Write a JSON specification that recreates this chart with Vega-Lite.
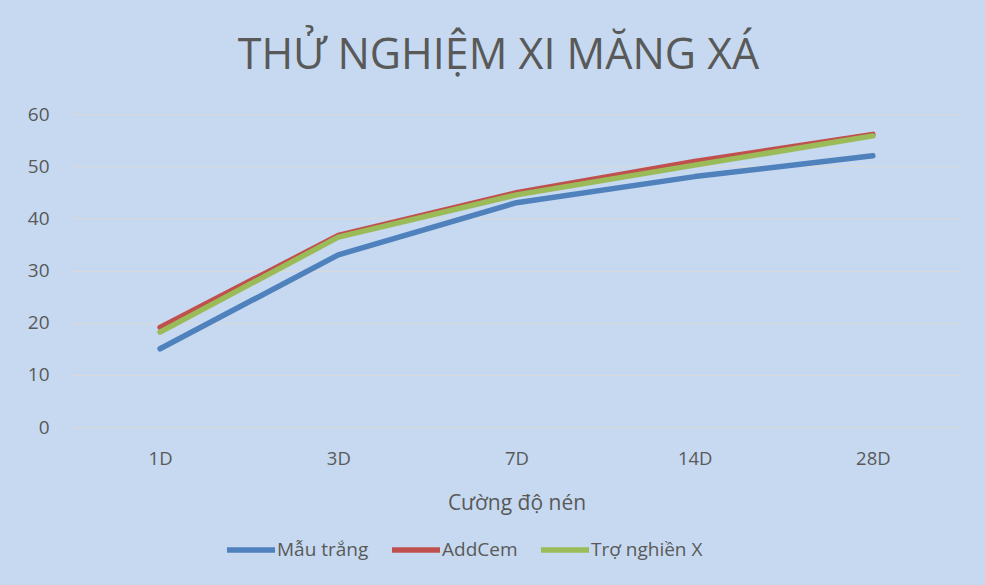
{
  "$schema": "https://vega.github.io/schema/vega-lite/v6.json",
  "autosize": {"type": "none"},
  "width": 891,
  "height": 313,
  "padding": {"left": 71, "top": 114, "right": 23, "bottom": 158},
  "background": "#C6D9F0",
  "title": {
    "text": "THỬ NGHIỆM XI MĂNG XÁ",
    "font": "Open Sans",
    "fontSize": 43,
    "fontWeight": "normal",
    "color": "#595959",
    "anchor": "middle",
    "baseline": "bottom",
    "offset": -16,
    "dx": -18
  },
  "data": {
    "values": [
      {"age": "1D", "series": "Mẫu trắng", "value": 15},
      {"age": "3D", "series": "Mẫu trắng", "value": 33},
      {"age": "7D", "series": "Mẫu trắng", "value": 43},
      {"age": "14D", "series": "Mẫu trắng", "value": 48},
      {"age": "28D", "series": "Mẫu trắng", "value": 52},
      {"age": "1D", "series": "AddCem", "value": 19.1},
      {"age": "3D", "series": "AddCem", "value": 36.7},
      {"age": "7D", "series": "AddCem", "value": 44.9},
      {"age": "14D", "series": "AddCem", "value": 50.9},
      {"age": "28D", "series": "AddCem", "value": 56.1},
      {"age": "1D", "series": "Trợ nghiền X", "value": 18.2},
      {"age": "3D", "series": "Trợ nghiền X", "value": 36.4},
      {"age": "7D", "series": "Trợ nghiền X", "value": 44.5},
      {"age": "14D", "series": "Trợ nghiền X", "value": 50.2},
      {"age": "28D", "series": "Trợ nghiền X", "value": 55.8}
    ]
  },
  "mark": {"type": "line", "strokeWidth": 5.5, "strokeCap": "round", "strokeJoin": "round"},
  "encoding": {
    "x": {
      "field": "age",
      "type": "ordinal",
      "sort": ["1D", "3D", "7D", "14D", "28D"],
      "scale": {"type": "point", "padding": 0.5},
      "axis": {
        "title": "Cường độ nén",
        "labelAngle": 0,
        "ticks": false,
        "tickSize": 0,
        "grid": false,
        "domain": true,
        "domainColor": "#D9D9D9",
        "labelFont": "Open Sans",
        "labelFontSize": 18.5,
        "labelColor": "#595959",
        "labelPadding": 22,
        "titleFont": "Open Sans",
        "titleFontSize": 21,
        "titleFontWeight": "normal",
        "titleColor": "#595959",
        "titlePadding": 25
      }
    },
    "y": {
      "field": "value",
      "type": "quantitative",
      "scale": {"domain": [0, 60]},
      "axis": {
        "title": null,
        "values": [0, 10, 20, 30, 40, 50, 60],
        "ticks": false,
        "tickSize": 0,
        "domain": false,
        "grid": true,
        "gridColor": "#D9D9D9",
        "gridWidth": 1,
        "labelFont": "Open Sans",
        "labelFontSize": 19,
        "labelColor": "#595959",
        "labelPadding": 22
      }
    },
    "color": {
      "field": "series",
      "type": "nominal",
      "sort": ["Mẫu trắng", "AddCem", "Trợ nghiền X"],
      "scale": {"domain": ["Mẫu trắng", "AddCem", "Trợ nghiền X"], "range": ["#4F81BD", "#C0504D", "#9BBB59"]},
      "legend": {
        "title": null,
        "orient": "none",
        "legendX": 153,
        "legendY": 409,
        "direction": "horizontal",
        "symbolType": "stroke",
        "symbolSize": 2304,
        "symbolStrokeWidth": 5.5,
        "labelFont": "Open Sans",
        "labelFontSize": 19,
        "labelColor": "#595959",
        "labelOffset": -1,
        "columnPadding": 12
      }
    }
  },
  "config": {"view": {"stroke": null}}
}
